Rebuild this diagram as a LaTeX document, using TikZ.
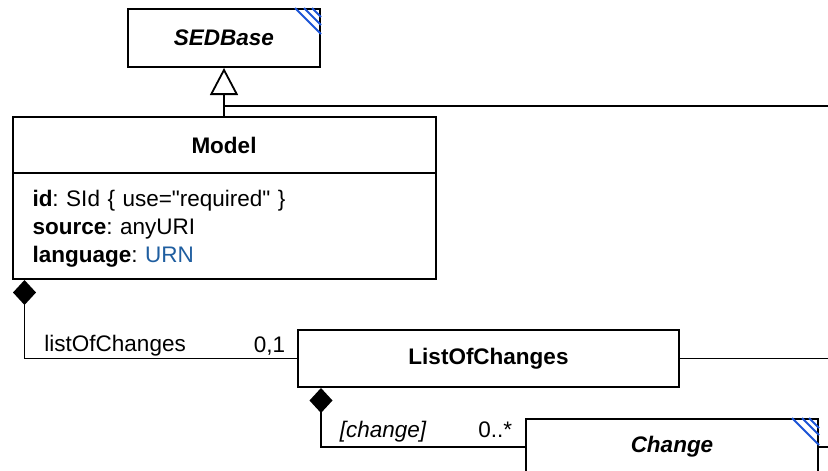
\documentclass[tikz,border=0pt]{standalone}
\usepackage{fontspec}
\setmainfont{Liberation Sans}[Ligatures=TeXOff]
\usetikzlibrary{arrows.meta,positioning}
\definecolor{hatchblue}{RGB}{28,84,214}
\definecolor{typeblue}{RGB}{31,94,160}
\newcommand{\umltext}{\fontsize{22.5}{28}\selectfont\frenchspacing}

\begin{document}
\begin{tikzpicture}[x=1pt,y=-1pt,font=\umltext]
    \tikzstyle{umlclass}=[draw,line width=2pt,fill=white,inner sep=0pt,font=\umltext\bfseries]
    \tikzstyle{umlattr}=[draw,line width=2pt,fill=white,inner xsep=20pt,inner ysep=0pt,align=left]
    \tikzstyle{hatch}=[draw=hatchblue,line width=1.8pt]
    \tikzstyle{assoc}=[line width=1.8pt]
    \tikzstyle{assoclabel}=[inner sep=0pt]

    \useasboundingbox (0,0) rectangle (828,471);
    \clip (0,0) rectangle (828,471);

    \node[umlclass,minimum width=192pt,minimum height=58pt] (sedbase) at (224,38) {\itshape SEDBase};
    \node[umlclass,minimum width=423pt,minimum height=56pt] (model) at (224,145) {Model};
    \node[umlattr,text width=383pt,minimum height=106pt,below=-2pt of model] (modelattr)
        {\rule{0pt}{22.5pt}\textbf{id}: SId \{ use="required" \}\\
         \textbf{source}: anyURI\\
         \textbf{language}: \textcolor{typeblue}{URN}};
    \node[umlclass,minimum width=381pt,minimum height=57pt] (loc) at (488.5,358.5) {ListOfChanges};
    \node[umlclass,minimum width=292pt,minimum height=56pt] (change) at (672,447) {\itshape Change};

    % abstract class markers
    \foreach \d in {9,17,26}
        \draw[hatch] ([xshift=-\d pt]sedbase.north east) -- ([yshift=-\d pt]sedbase.north east);
    \foreach \d in {10,17,27}
        \draw[hatch] ([xshift=-\d pt]change.north east) -- ([yshift=-\d pt]change.north east);

    % generalisation
    \coordinate (genjoint) at (224,106);
    \coordinate (genend) at (828,106);
    \draw[assoc,-{Triangle[open,length=27pt,width=28pt]}] (model.north) -- (sedbase.south);
    \draw[assoc] (genjoint) -- (genend);

    % compositions
    \draw[assoc,{Diamond[length=25pt,width=23pt]}-] ([xshift=13pt]modelattr.south west) |- (loc.west)
        node[assoclabel,pos=0.535,anchor=base west,yshift=7pt] {listOfChanges}
        node[assoclabel,pos=1,anchor=base east,xshift=-11pt,yshift=6pt] {0,1};
    \draw[assoc,{Diamond[length=25pt,width=23pt]}-] ([xshift=24pt]loc.south west) |- (change.west)
        node[assoclabel,pos=0.544,anchor=base west,yshift=10pt] {\itshape [change]}
        node[assoclabel,pos=1,anchor=base east,xshift=-12pt,yshift=10pt] {0..*};

    \coordinate (locend) at (828,358.5);
    \coordinate (changeend) at (828,447);
    \draw[assoc] (loc.east) -- (locend);
    \draw[assoc] (change.east) -- (changeend);
\end{tikzpicture}
\end{document}
